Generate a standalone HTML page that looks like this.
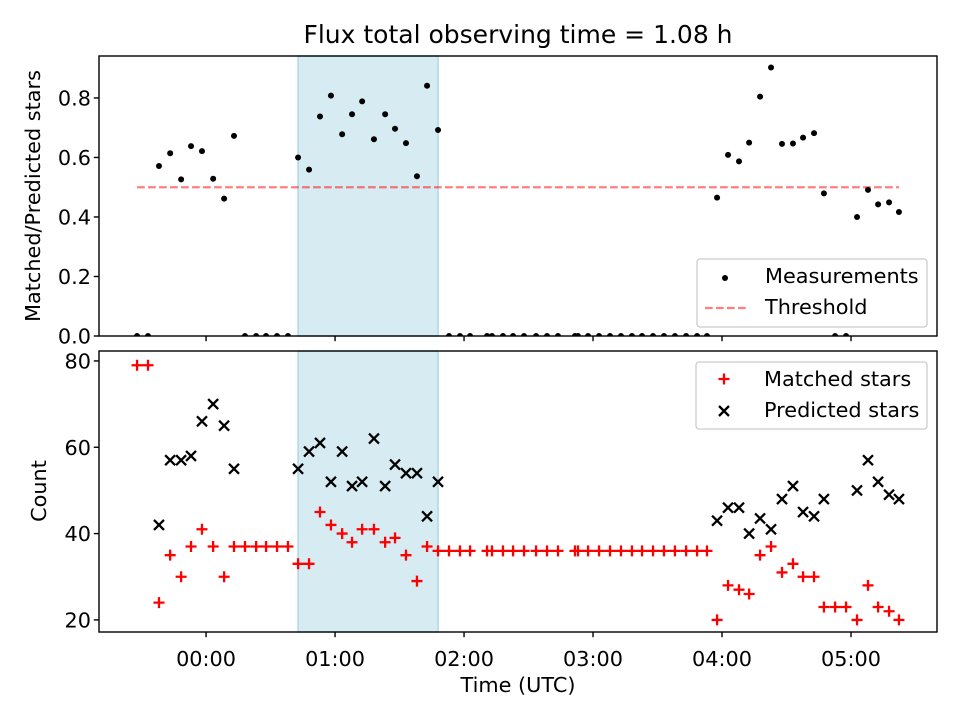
<!DOCTYPE html>
<html><head><meta charset="utf-8"><title>Flux observing time</title>
<style>html,body{margin:0;padding:0;background:#fff}svg{display:block;font-family:"DejaVu Sans","Liberation Sans",sans-serif}</style>
</head><body>
<svg id="chart" width="960" height="720" viewBox="0 0 960 720" xmlns="http://www.w3.org/2000/svg">
<rect width="960" height="720" fill="#fff"/>
<text x="518" y="43" font-size="25" text-anchor="middle">Flux total observing time = 1.08 h</text>
<g id="topPanel"></g>
<g id="botPanel"></g>
<text x="518" y="692" font-size="20.8" text-anchor="middle">Time (UTC)</text>
<text transform="translate(40,196) rotate(-90)" font-size="20.8" text-anchor="middle">Matched/Predicted stars</text>
<text transform="translate(46,491) rotate(-90)" font-size="20.8" text-anchor="middle">Count</text>
</svg>
<script>
// minutes relative to 00:00 UTC
const times = [-32.1,-27.0,-21.9,-16.7,-11.6,-7.0,-1.9,3.3,8.4,13.0,18.1,23.3,27.9,33.0,38.1,
 42.8,47.9,53.0,58.1,63.3,67.9,72.6,78.1,83.3,87.9,93.0,98.1,102.8,107.9,
 113.0,118.1,122.8,130.7,133.0,138.1,142.8,147.9,153.5,158.6,163.7,171.6,173.0,177.7,182.8,187.9,193.0,198.1,202.8,207.9,213.0,218.1,223.3,228.4,233.0,
 237.7,242.8,247.9,252.6,257.7,262.8,267.9,273.0,277.7,282.8,287.4,292.6,297.7,302.8,307.9,312.6,317.7,322.3];
const matched = [79,79,24,35,30,37,41,37,30,37,37,37,37,37,37,
 33,33,45,42,40,38,41,41,38,39,35,29,37,36,
 36,36,36,36,36,36,36,36,36,36,36,36,36,36,36,36,36,36,36,36,36,36,36,36,36,
 20,28,27,26,35,37,31,33,30,30,23,23,23,20,28,23,22,20];
const predicted = [0,0,42,57,57,58,66,70,65,55,0,0,0,0,0,
 55,59,61,52,59,51,52,62,51,56,54,54,44,52,
 0,0,0,0,0,0,0,0,0,0,0,0,0,0,0,0,0,0,0,0,0,0,0,0,0,
 43,46,46,40,43.5,41,48,51,45,44,48,0,0,50,57,52,49,48];
const threshold = 0.5;
const shadeRange = [42.8, 107.9];
const xTickVals = [0,60,120,180,240,300];
const xTickLabels = ["00:00","01:00","02:00","03:00","04:00","05:00"];
const topTicks = [0,0.2,0.4,0.6,0.8];
const topTickLabels = ["0.0","0.2","0.4","0.6","0.8"];
const botTicks = [20,40,60,80];
const botTickLabels = ["20","40","60","80"];

const NS="http://www.w3.org/2000/svg";
const L=99,R=937;
const xMin=-49.8,xMax=340.0;
const X=v=>L+(v-xMin)/(xMax-xMin)*(R-L);
const TA={top:56,bot:336,min:0,max:0.941};
const BA={top:351,bot:632,min:17.2,max:82.3};
const Y=(a,v)=>a.bot-(v-a.min)/(a.max-a.min)*(a.bot-a.top);
const FS=20.8;
function mk(p,tag,at,txt){const e=document.createElementNS(NS,tag);for(const k in at)e.setAttribute(k,at[k]);if(txt!==undefined)e.textContent=txt;p.appendChild(e);return e;}
const ratio = matched.map((m,i)=>predicted[i]>0?m/predicted[i]:0);

function panel(g,a,ticks,labels,showX){
  const cp='clip'+a.top;
  const d=mk(g,'clipPath',{id:cp});mk(d,'rect',{x:L,y:a.top,width:R-L,height:a.bot-a.top});
  const s=mk(g,'rect',{x:X(shadeRange[0]),y:a.top,width:X(shadeRange[1])-X(shadeRange[0]),height:a.bot-a.top,fill:'#add8e6','fill-opacity':0.5,stroke:'#add8e6','stroke-width':1.5});
  
  
  const m=mk(g,'g',{'clip-path':'url(#'+cp+')'});
  xTickVals.forEach((v,i)=>{
    const t=mk(g,'line',{x1:X(v),x2:X(v),y1:a.bot,y2:a.bot+5.2,stroke:'#000','stroke-width':1.4});
    
    
    if(showX){const tl=mk(g,'text',{x:X(v),y:a.bot+34,'font-size':FS,'text-anchor':'middle'},xTickLabels[i]);
      
      }
  });
  ticks.forEach((v,i)=>{
    const y=Y(a,v);
    const t=mk(g,'line',{x1:L-5.2,x2:L,y1:y,y2:y,stroke:'#000','stroke-width':1.4});
    
    
    const tl=mk(g,'text',{x:L-8,y:y+7.5,'font-size':FS,'text-anchor':'end'},labels[i]);
    
    
  });
  return m;
}
const topG=document.getElementById('topPanel'), botG=document.getElementById('botPanel');
const mt=panel(topG,TA,topTicks,topTickLabels,false);
const mb=panel(botG,BA,botTicks,botTickLabels,true);

const th=mk(mt,'line',{x1:X(times[0]),x2:X(times[times.length-1]),y1:Y(TA,threshold),y2:Y(TA,threshold),stroke:'#ff0000','stroke-opacity':0.5,'stroke-width':2.3,'stroke-dasharray':'7.7,3.3'});


times.forEach((t,i)=>{
  const c=mk(mt,'circle',{cx:X(t),cy:Y(TA,ratio[i]),r:3,fill:'#000'});
  
  
});
times.forEach((t,i)=>{
  const x=X(t),y=Y(BA,predicted[i]);
  const p=mk(mb,'path',{d:`M${x-5},${y-5}L${x+5},${y+5}M${x-5},${y+5}L${x+5},${y-5}`,stroke:'#000','stroke-width':2.3,fill:'none'});
  
  
});
times.forEach((t,i)=>{
  const x=X(t),y=Y(BA,matched[i]);
  const p=mk(mb,'path',{d:`M${x-5.5},${y}L${x+5.5},${y}M${x},${y-5.5}L${x},${y+5.5}`,stroke:'#ff0000','stroke-width':2.3,fill:'none'});
  
  
});
[TA,BA].forEach(a=>{
  const f=mk(a===TA?topG:botG,'rect',{x:L,y:a.top,width:R-L,height:a.bot-a.top,fill:'none',stroke:'#000','stroke-width':1.4});
  
  
});
function legend(g,x,y,w,h,items){
  const lg=mk(g,'g',{});
  
  
  mk(lg,'rect',{x:x,y:y,width:w,height:h,rx:3,fill:'#fff','fill-opacity':0.8,stroke:'#ccc','stroke-width':1.3});
  items.forEach((it,i)=>{
    const cy=y+17+i*31;
    const e=mk(lg,'g',{});
    
    
    it.draw(e,x+28,cy);
    mk(e,'text',{x:x+68,y:cy+7,'font-size':FS},it.label);
  });
}
legend(topG,697,259,230,68,[
  {label:'Measurements',draw:(e,x,y)=>mk(e,'circle',{cx:x,cy:y+2,r:3,fill:'#000'})},
  {label:'Threshold',draw:(e,x,y)=>mk(e,'line',{x1:x-20,x2:x+22,y1:y+1,y2:y+1,stroke:'#ff0000','stroke-opacity':0.5,'stroke-width':2.3,'stroke-dasharray':'7.7,3.3'})}
]);
legend(botG,696,362,231,67,[
  {label:'Matched stars',draw:(e,x,y)=>mk(e,'path',{d:`M${x-5.5},${y}L${x+5.5},${y}M${x},${y-5.5}L${x},${y+5.5}`,stroke:'#ff0000','stroke-width':2.3})},
  {label:'Predicted stars',draw:(e,x,y)=>mk(e,'path',{d:`M${x-5},${y-4}L${x+5},${y+6}M${x-5},${y+6}L${x+5},${y-4}`,stroke:'#000','stroke-width':2.3})}
]);
</script>
</body></html>
